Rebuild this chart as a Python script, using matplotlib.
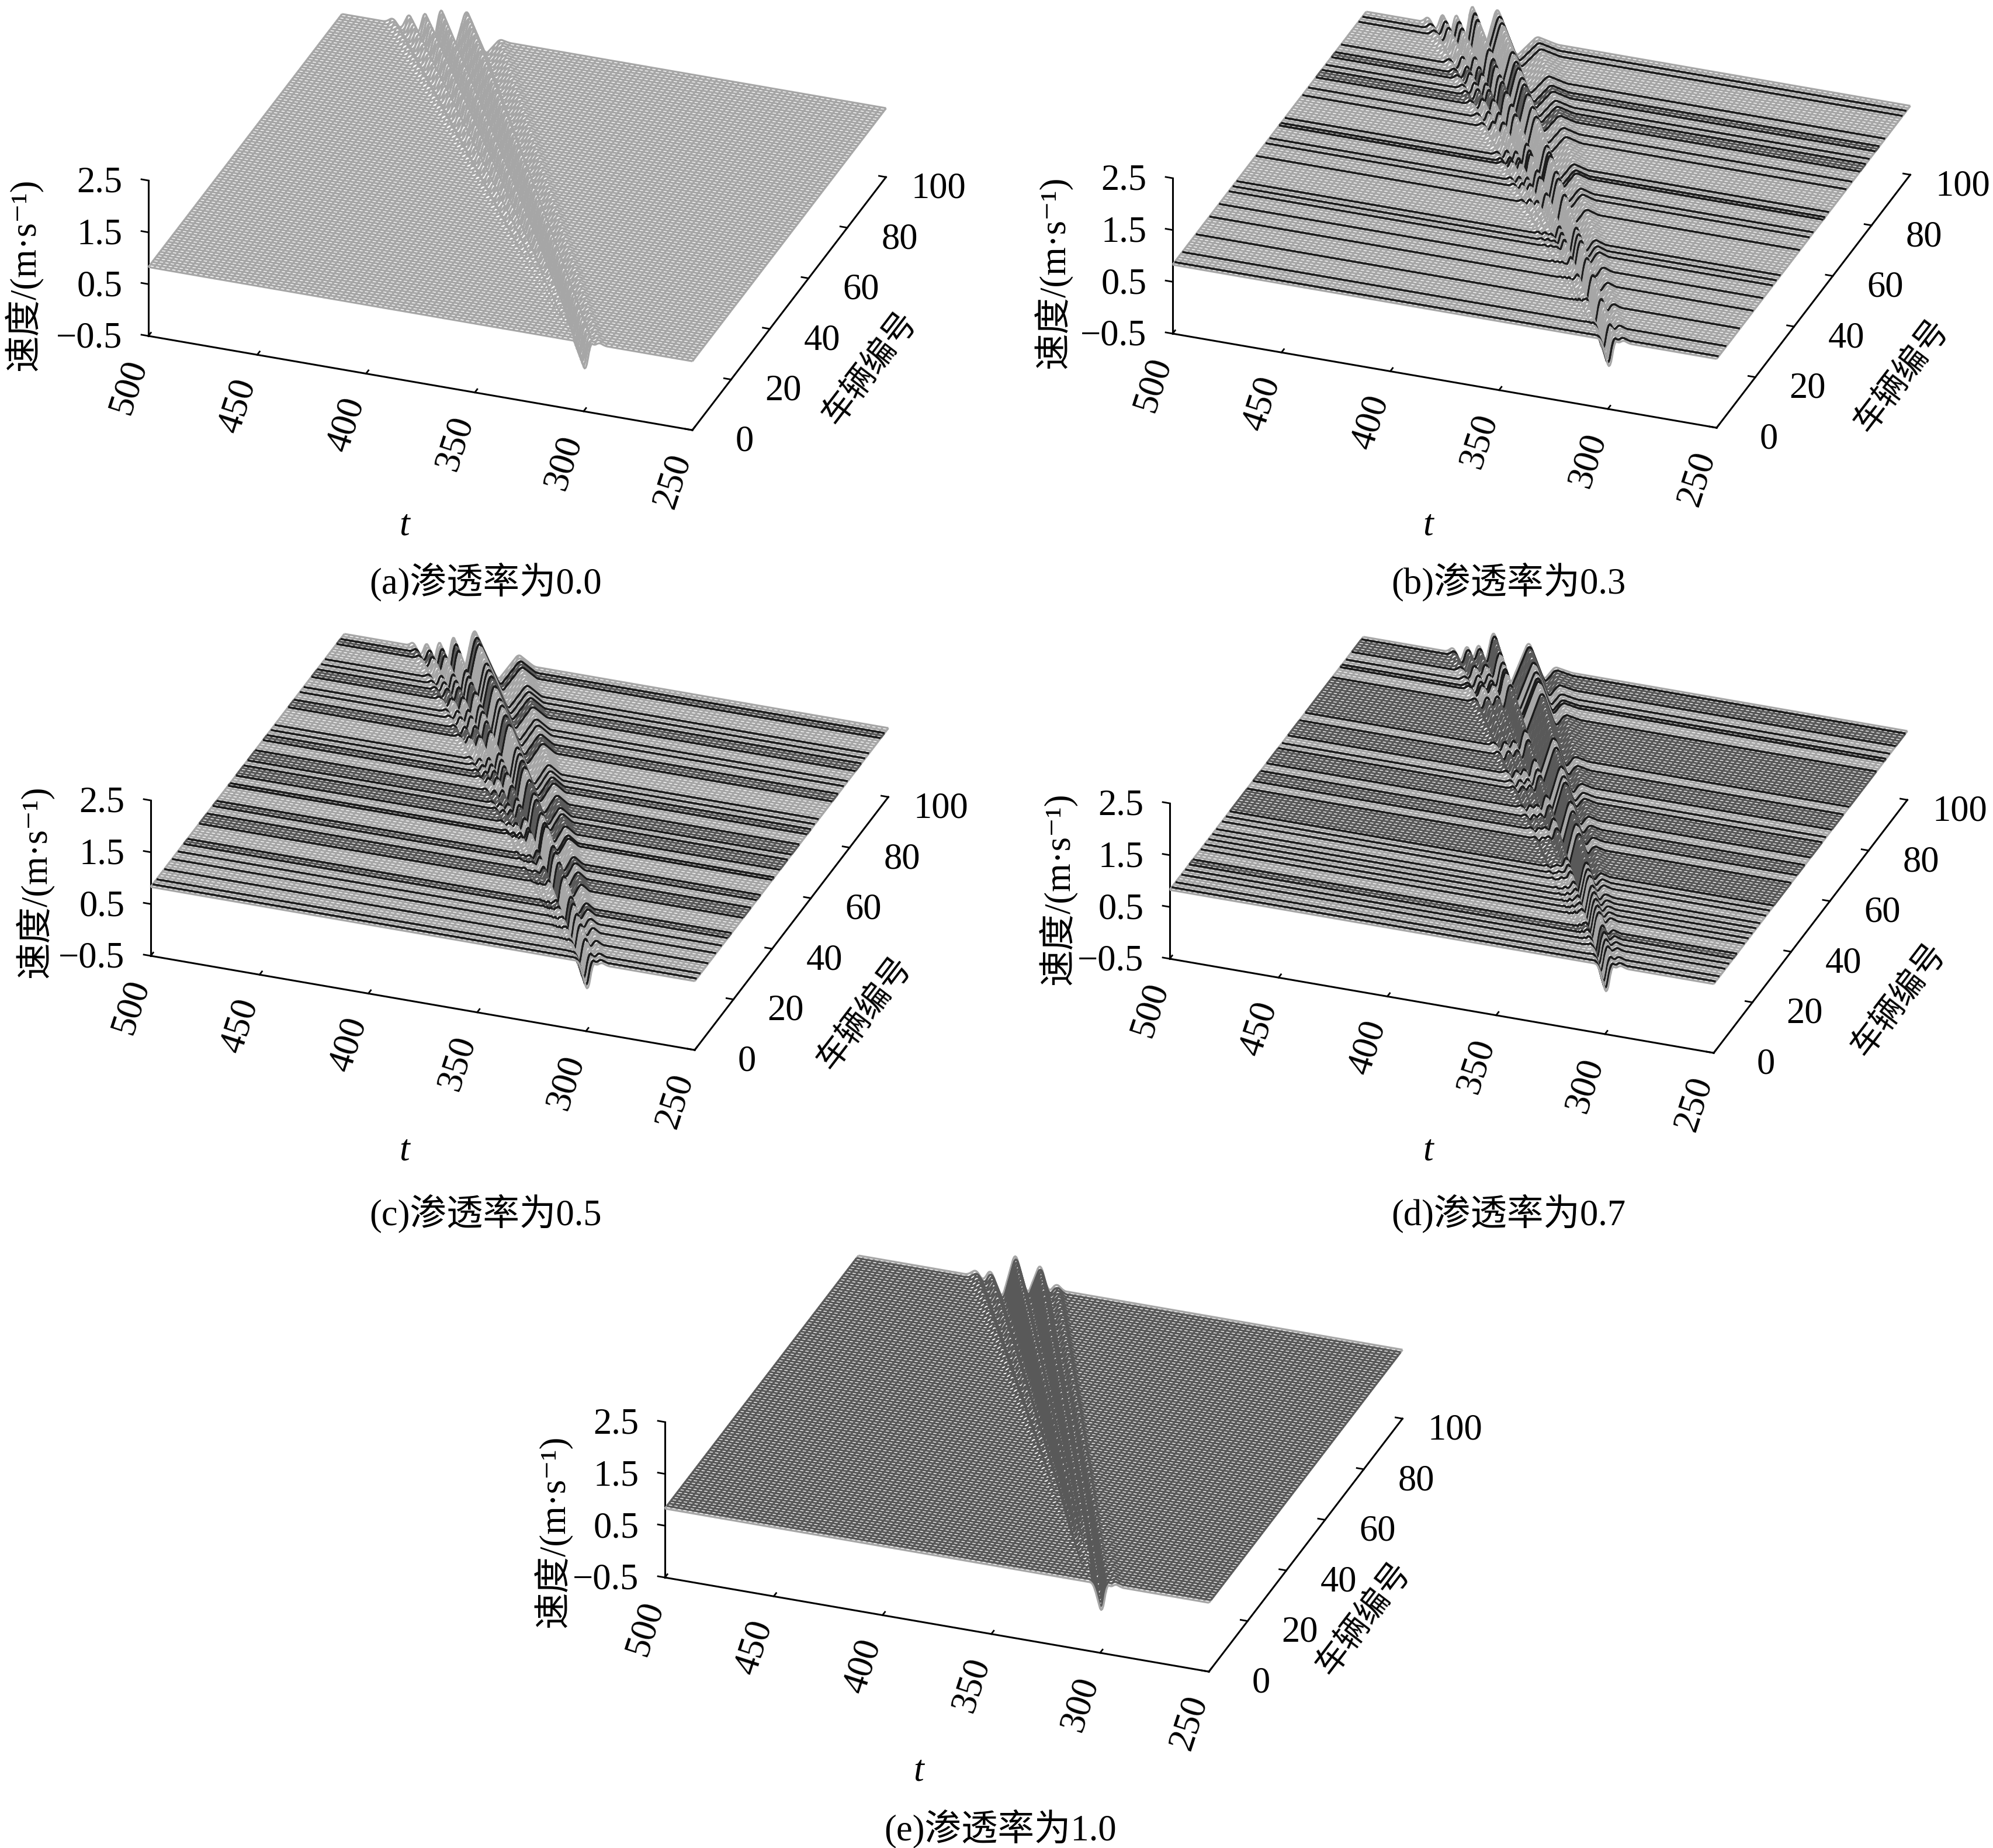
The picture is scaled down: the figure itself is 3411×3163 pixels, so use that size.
import numpy as np
import matplotlib
matplotlib.use("Agg")
import matplotlib.pyplot as plt
from matplotlib.transforms import Affine2D
from mpl_toolkits.mplot3d import proj3d
from mpl_toolkits.mplot3d.art3d import Poly3DCollection, Line3DCollection

plt.rcParams['font.family'] = ['Liberation Serif', 'Noto Sans CJK SC', 'DejaVu Sans']
plt.rcParams['axes.unicode_minus'] = True

W, H = 3411, 3163
LIGHT, DARK, BLACK = '#a6a6a6', '#595959', '#1c1c1c'
BASE_SPEED = 0.83

vehicles = np.arange(0, 101)
t_line = np.arange(250, 500.01, 0.5)

# wave at the first vehicle
t_front = [307, 306.5, 306, 305.5, 305, 304.5, 304, 303, 299, 297, 295, 293, 290]
dz_front = [0, 0, 0, 0, 0, 0, 0, -.03, -.62, .03, -.03, .05, 0]

# how far the wave has grown towards its last-vehicle shape
grow_v = [0, 10, 30, 60, 100]
grow_w = [0, .35, .6, .8, 1]

# wave at the last vehicle, per panel
t_rear_a = [480, 476.6, 473, 469, 465.3, 461.8, 458, 454.6, 449, 443, 434, 427.5, 423]
dz_rear_a = [0, .1, -.1, .26, -.2, .39, -.3, .52, -.4, .52, -.3, .04, 0]
t_rear_b = [474.5, 471.5, 468, 464.8, 461.5, 458.6, 455, 451.4, 446, 440, 431, 421.6, 412]
dz_rear_b = [0, .12, -.15, .28, -.25, .35, -.35, .58, -.4, .54, -.36, .09, 0]
t_rear_c = [470.5, 468.3, 465, 462, 459, 456.2, 453, 450, 445.5, 440.6, 429.4, 420, 412.7]
dz_rear_c = [0, .09, -.2, .16, -.3, .28, -.4, .43, -.45, .56, -.38, .19, 0]
t_rear_d = [461.6, 458.6, 455.4, 452.4, 449.7, 447, 443.9, 440.4, 432.6, 424, 417, 412, 404]
dz_rear_d = [0, .11, -.19, .23, -.1, .3, -.13, .6, -.45, .48, -.23, .06, 0]
t_rear_e = [450, 446, 442.8, 439.4, 434, 428, 422.4, 416.5, 412.7, 409, 405.5, 402, 398]
dz_rear_e = [0, .12, -.07, .18, -.35, .6, -.2, .47, -.07, .12, 0, 0, 0]

cav_a = []
cav_b = [1, 5, 12, 19, 24, 29, 31, 33, 43, 48, 50, 55, 56, 58, 67, 70, 74, 75, 76, 77, 79,
         82, 83, 84, 87, 96, 98]
cav_c = [1, 3, 7, 11, 14, 17, 18, 19, 25, 26, 27, 28, 29, 32, 33, 34, 40, 41, 44, 45, 46, 47, 48,
         50, 51, 52, 53, 54, 58, 59, 60, 62, 64, 71, 72, 73, 74, 77, 79, 83, 84, 85, 86, 88, 90,
         96, 97, 98]
cav_d = [1, 3, 6, 8, 10, 11, 12, 16, 18, 20, 22, 24, 27, 29, 31, 32, 33, 34, 35, 36, 37, 38, 39,
         40, 43, 44, 45, 46, 47, 50, 51, 52, 53, 54, 55, 56, 58, 61, 62, 63, 64, 65, 66, 67, 70,
         71, 72, 73, 74, 75, 76, 77, 78, 79, 80, 81, 82, 83, 84, 88, 89, 91, 94, 95, 96, 97, 98, 99]
cav_e = list(range(1, 100))

captions = ['(a)渗透率为0.0', '(b)渗透率为0.3', '(c)渗透率为0.5', '(d)渗透率为0.7', '(e)渗透率为1.0']
veh_ticks = [0, 20, 40, 60, 80, 100]
t_ticks = [250, 300, 350, 400, 450, 500]
z_ticks = [-0.5, 0.5, 1.5, 2.5]

# layout in pixels of the full picture
origins = [(254, 575), (2007, 571), (258, 1636), (2002, 1641), (1138, 2700)]
caption_xy = [(831, 996), (2582, 996), (831, 2077), (2582, 2077), (1712, 3130)]
t_label_xy = [(692, 900), (2444, 900), (692, 1970), (2444, 1970), (1572, 3032)]
veh_label_shift = [(-11, -42), (2, -59), (-24, -85), (2, -57), (-50, -57)]
z_label_shift = [(70, 33), (79, 33), (85, 55), (92, 48), (92, 7)]
SPAN_T = 931
BOX = (968.8, 990.6, 302.4)

fig = plt.figure(figsize=(W / 100, H / 100), dpi=100, facecolor='white')


def surface(t_rear, dz_rear):
    Z = np.zeros((len(vehicles), len(t_line)))
    box = np.ones(5) / 5
    for i, v in enumerate(vehicles):
        f = v / 100.0
        g = np.interp(v, grow_v, grow_w)
        tk = np.array(t_front) * (1 - f) + np.array(t_rear) * f
        dk = np.array(dz_front) * (1 - g) + np.array(dz_rear) * g
        order = np.argsort(tk)
        Z[i] = BASE_SPEED + np.convolve(np.interp(t_line, tk[order], dk[order]), box, mode='same')
    return Z


def place(ax, origin):
    L = 1500.0
    ax.set_position([0.2, 0.2, L / W, L / H])
    ax.apply_aspect()
    M = ax.get_proj()
    xs, ys, _ = proj3d.proj_transform(np.array([0., 0.]), np.array([500., 250.]),
                                      np.array([-.5, -.5]), M)
    p = ax.transData.transform(np.c_[xs, ys])
    k = SPAN_T / (p[1, 0] - p[0, 0])
    c = np.array([0.2 * W + L / 2, 0.2 * H + L / 2])
    rel = (p[0] - c) * k
    newc = np.array([origin[0], H - origin[1]]) - rel
    L2 = L * k
    ax.set_position([(newc[0] - L2 / 2) / W, (newc[1] - L2 / 2) / H, L2 / W, L2 / H])


def panel(idx, t_rear, dz_rear, cav):
    ax = fig.add_axes([0.2, 0.2, 0.4, 0.4], projection='3d', computed_zorder=False)
    ax.set_proj_type('ortho')
    ax.set_box_aspect(BOX)
    ax.view_init(elev=28.4, azim=-160)
    ax.set_xlim(0, 100, view_margin=0)
    ax.set_ylim(250, 500, view_margin=0)
    ax.set_zlim(-.5, 2.5, view_margin=0)
    ax.patch.set_alpha(0)
    ax.grid(False)
    place(ax, origins[idx])

    Z = surface(t_rear, dz_rear)
    s = set(cav)
    all_cav = len(cav) > 90
    step = int(round(2.5 / 0.5))
    zo = 10
    for v in range(99, -1, -1):
        strip_dark = (v in s) and (v + 1 in s)
        col = DARK if strip_dark else LIGHT
        xy = list(zip([v] * len(t_line), t_line, Z[v])) + \
            list(zip([v + 1] * len(t_line), t_line[::-1], Z[v + 1][::-1]))
        poly = Poly3DCollection([xy], facecolors='white', edgecolors='none', zorder=zo)
        ax.add_collection3d(poly, autolim=False)
        segs = [[(v, t_line[j], Z[v, j]), (v + 1, t_line[j], Z[v + 1, j])]
                for j in range(0, len(t_line), step)]
        lc = Line3DCollection(segs, colors=col, linewidths=2.5, zorder=zo + 1)
        ax.add_collection3d(lc, autolim=False)
        for u in (v + 1, v):
            if u in s:
                inner = (u - 1 in s) and (u + 1 in s)
                c = DARK if (inner or all_cav) else BLACK
                lw = 2.4 if (inner or all_cav) else 2.6
            else:
                c, lw = LIGHT, 2.4
            ax.plot([u] * len(t_line), t_line, Z[u], color=c, lw=lw, zorder=zo + 2,
                    solid_capstyle='butt')
        zo += 3

    for axis in (ax.xaxis, ax.yaxis, ax.zaxis):
        axis.set_pane_color((1, 1, 1, 0))
        axis.pane.set_edgecolor('none')
        axis.line.set_color('black')
        axis.line.set_linewidth(2.2)
        axis._axinfo['tick']['outward_factor'] = 0.16
        axis._axinfo['tick']['inward_factor'] = 0.0
        axis._axinfo['tick']['linewidth'] = {True: 2.0, False: 2.0}
    ax.set_xticks(veh_ticks)
    ax.set_yticks(t_ticks)
    ax.set_zticks(z_ticks)
    ax.set_zticklabels(['\u22120.5', '0.5', '1.5', '2.5'])
    ax.tick_params(axis='both', labelsize=45)
    ax.tick_params(axis='z', labelsize=45)
    ax.tick_params(axis='y', labelrotation=72, pad=28)
    ax.tick_params(axis='x', pad=30)
    ax.tick_params(axis='z', pad=22)
    ax.zaxis.set_ticks_position('upper')
    ax.zaxis.set_label_position('upper')
    ax.zaxis._get_tickdir = lambda position: 1

    def shift(text, dx, dy):
        # the 3D axis resets a text's transform on every draw, so offset what it reads back
        tr = ax.transData + Affine2D().translate(dx, dy)
        text.get_transform = lambda: tr

    for tk in ax.xaxis.get_major_ticks():
        tk.label1.set_va('bottom')
        shift(tk.label1, 21, -18)
    for tk in ax.yaxis.get_major_ticks():
        shift(tk.label1, -10, 15)
    for tk in ax.zaxis.get_major_ticks():
        tk.label1.set_ha('right')
        shift(tk.label1, 29, 40)

    ax.xaxis.set_rotate_label(True)
    ax.set_xlabel('车辆编号', fontsize=41, labelpad=62)
    shift(ax.xaxis.label, *veh_label_shift[idx])
    ax.zaxis.set_rotate_label(False)
    ax.set_zlabel('速度/(m·s⁻¹)', fontsize=45, labelpad=95, rotation=90)
    shift(ax.zaxis.label, *z_label_shift[idx])

    fig.text(t_label_xy[idx][0] / W, 1 - t_label_xy[idx][1] / H, 't', fontsize=46, style='italic',
             ha='center', va='center')
    fig.text(caption_xy[idx][0] / W, 1 - caption_xy[idx][1] / H, captions[idx], fontsize=45,
             ha='center', va='center')
    return ax


panel(0, t_rear_a, dz_rear_a, cav_a)
panel(1, t_rear_b, dz_rear_b, cav_b)
panel(2, t_rear_c, dz_rear_c, cav_c)
panel(3, t_rear_d, dz_rear_d, cav_d)
panel(4, t_rear_e, dz_rear_e, cav_e)

fig.savefig('out.png', dpi=100, facecolor='white')
